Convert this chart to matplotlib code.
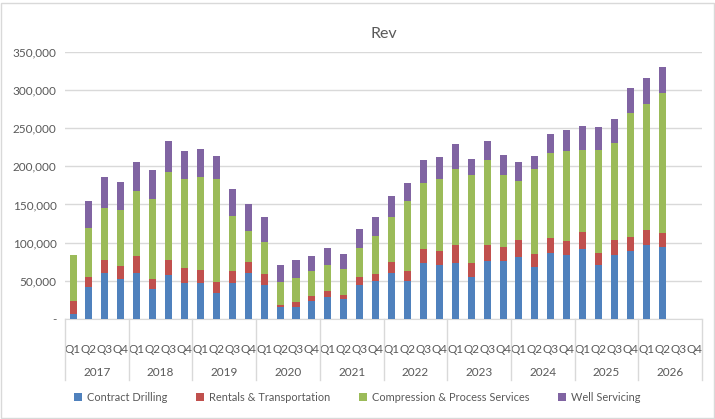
import matplotlib
matplotlib.use("Agg")
import matplotlib.pyplot as plt
import numpy as np
from matplotlib.patches import Rectangle

years = ["2017", "2018", "2019", "2020", "2021", "2022", "2023", "2024", "2025", "2026"]
quarters = ["Q1", "Q2", "Q3", "Q4"]

contract_drilling = [7000, 41200, 59600, 51700, 60500, 38600, 57900, 47300, 46500, 33300, 47300, 59600,
                     43800, 14900, 15800, 23700, 28900, 25400, 43800, 49100, 60500, 50000, 73600, 70100,
                     73600, 54300, 76300, 75400, 81500, 68400, 86800, 84100, 91200, 71000, 83300, 88500,
                     97300, 94700, 0, 0]
rentals_transport = [16700, 14000, 18000, 18000, 22300, 14000, 19700, 19800, 17900, 15400, 15800, 15300,
                     15400, 3500, 6600, 6500, 7900, 6200, 11400, 10100, 14400, 13100, 18400, 19300,
                     23700, 19300, 21000, 19300, 22400, 17100, 19700, 18500, 23200, 15800, 20600, 19300,
                     19700, 18400, 0, 0]
compression = [60400, 64500, 68400, 73600, 85500, 105200, 114400, 115700, 121000, 134100, 72300, 40800,
               42000, 30300, 31500, 32900, 34200, 34100, 38200, 49900, 59200, 92000, 86800, 93400,
               98600, 114400, 110400, 94600, 77500, 110400, 110400, 117000, 106500, 134100, 126200, 161700,
               164400, 182700, 0, 0]
well_servicing = [0, 35500, 39400, 36800, 36800, 36800, 40700, 36800, 36800, 30200, 35500, 35500,
                  32900, 22300, 23700, 19700, 22400, 19800, 24900, 25000, 27600, 23700, 28900, 28900,
                  32900, 21000, 25000, 25000, 23700, 17100, 25000, 27600, 31500, 30200, 31600, 32900,
                  34100, 34200, 0, 0]

series = [
    ("Contract Drilling", contract_drilling, "#4F81BD"),
    ("Rentals & Transportation", rentals_transport, "#C0504D"),
    ("Compression & Process Services", compression, "#9BBB59"),
    ("Well Servicing", well_servicing, "#8064A2"),
]

plt.rcParams['font.family'] = ['Lato', 'DejaVu Sans']
text_color = "#595959"
grid_color = "#D9D9D9"

fig = plt.figure(figsize=(7.15, 4.19), dpi=100)
ax = fig.add_axes([0.091, 0.239, 0.891, 0.637])

n = len(years) * len(quarters)
x = np.arange(n)
bottom = np.zeros(n)
handles = []
for name, vals, col in series:
    v = np.array(vals, dtype=float)
    h = ax.bar(x, v, width=0.44, bottom=bottom, color=col, label=name, zorder=3)
    handles.append(h)
    bottom += v

ax.set_xlim(-0.5, n - 0.5)
ax.set_ylim(0, 350000)
yt = np.arange(0, 350001, 50000)
ax.set_yticks(yt)
ax.set_yticklabels(["-" if t == 0 else f"{t:,.0f}" for t in yt], fontsize=8.5, color=text_color)
ax.yaxis.grid(True, color=grid_color, linewidth=1, zorder=0)
ax.tick_params(axis='y', length=0, pad=6)
for s in ["top", "right", "left"]:
    ax.spines[s].set_visible(False)
ax.spines["bottom"].set_color(grid_color)

ax.set_xticks(x)
ax.set_xticklabels(quarters * len(years), fontsize=8.5, color=text_color)
ax.tick_params(axis='x', length=0, pad=18)

trans = ax.get_xaxis_transform()
for i, yr in enumerate(years):
    center = i * 4 + 1.5
    ax.text(center, -0.2, yr, transform=trans, ha='center', va='center',
            fontsize=8.5, color=text_color)
for i in range(len(years) + 1):
    xb = i * 4 - 0.5
    ax.plot([xb, xb], [0, -0.23], transform=trans, color=grid_color, lw=1, clip_on=False)

ax.set_title("Rev", fontsize=11.5, color=text_color, pad=10)

leg = fig.legend(handles=handles, labels=[s[0] for s in series], loc='center',
                 bbox_to_anchor=(0.5, 0.052), ncol=4, frameon=False, fontsize=7.9,
                 handlelength=0.7, handleheight=0.7, columnspacing=2.6, handletextpad=0.5)
for t in leg.get_texts():
    t.set_color(text_color)

fig.patches.append(Rectangle((0.001, 0.003), 0.997, 0.99, transform=fig.transFigure,
                             fill=False, edgecolor="#D9D9D9", lw=1))

fig.savefig("out.png", dpi=100)
